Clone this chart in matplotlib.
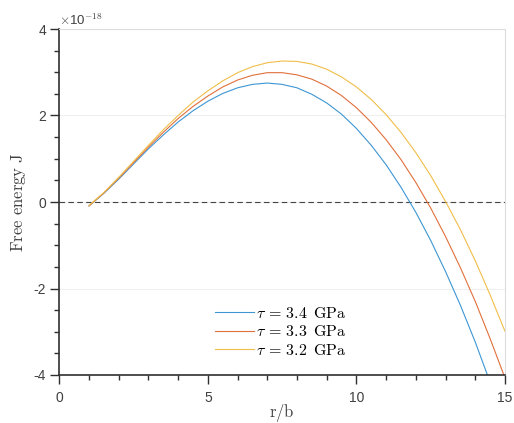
import matplotlib
matplotlib.use("Agg")
import matplotlib.pyplot as plt
from matplotlib.ticker import MultipleLocator

plt.rcParams['mathtext.fontset'] = 'cm'
plt.rcParams['axes.unicode_minus'] = False
plt.rcParams['font.family'] = ['Liberation Sans', 'DejaVu Sans']

# data (free energy in units of 1e-18 J)
r_over_b = [1, 1.5, 2, 2.5, 3, 3.5, 4, 4.5, 5, 5.5, 6, 6.5, 7, 7.5, 8, 8.5,
            9, 9.5, 10, 10.5, 11, 11.5, 12, 12.5, 13, 13.5, 14, 14.5, 15]
energy_tau_34 = [-0.09, 0.20, 0.53, 0.88, 1.23, 1.55, 1.85, 2.11, 2.33, 2.51,
                 2.64, 2.72, 2.75, 2.72, 2.64, 2.49, 2.29, 2.03, 1.70, 1.31,
                 0.86, 0.34, -0.24, -0.89, -1.61, -2.39, -3.24, -4.17, -5.15]
energy_tau_33 = [-0.09, 0.21, 0.55, 0.91, 1.27, 1.61, 1.93, 2.21, 2.45, 2.66,
                 2.82, 2.93, 2.99, 2.99, 2.94, 2.84, 2.68, 2.46, 2.18, 1.84,
                 1.44, 0.98, 0.45, -0.14, -0.80, -1.52, -2.30, -3.16, -4.07]
energy_tau_32 = [-0.08, 0.22, 0.57, 0.94, 1.31, 1.67, 2.00, 2.31, 2.57, 2.80,
                 2.99, 3.13, 3.22, 3.26, 3.25, 3.19, 3.07, 2.89, 2.66, 2.37,
                 2.02, 1.61, 1.14, 0.61, 0.01, -0.64, -1.36, -2.15, -2.99]
series_labels = [r'$\tau\,=\,3.4\ \,\mathrm{GPa}$',
                 r'$\tau\,=\,3.3\ \,\mathrm{GPa}$',
                 r'$\tau\,=\,3.2\ \,\mathrm{GPa}$']
colors = ['#3D96D3', '#E0703C', '#F0BE48']

fig = plt.figure(figsize=(5.14, 4.23), dpi=100)
ax = fig.add_axes([59.3 / 514, 1 - 375 / 423, (505 - 59.3) / 514, (375 - 29) / 423])

for ys, lab, c in zip([energy_tau_34, energy_tau_33, energy_tau_32], series_labels, colors):
    ax.plot(r_over_b, ys, color=c, lw=0.8, label=lab)

ax.axhline(0, color='#444444', lw=0.8, ls=(0, (5, 3)), zorder=1)

ax.set_xlim(0, 15)
ax.set_ylim(-4, 4)
ax.xaxis.set_major_locator(MultipleLocator(5))
ax.xaxis.set_minor_locator(MultipleLocator(1))
ax.yaxis.set_major_locator(MultipleLocator(2))
ax.yaxis.set_minor_locator(MultipleLocator(0.5))

ax.grid(axis='y', which='major', color='#EFEFEF', lw=0.8)
ax.set_axisbelow(True)

spine_dark = '#303030'
for s in ['left', 'bottom']:
    ax.spines[s].set_color(spine_dark)
    ax.spines[s].set_linewidth(1.2)
for s in ['top', 'right']:
    ax.spines[s].set_color('#DDDDDD')
    ax.spines[s].set_linewidth(0.8)

ax.tick_params(which='major', direction='out', length=6.5, width=1.0,
               color=spine_dark, labelcolor='#404040', labelsize=10, pad=3)
ax.tick_params(which='minor', direction='out', length=3.5, width=1.0, color=spine_dark)
ax.tick_params(axis='x', which='major', pad=5)

ax.text(0.0, 1.003, r'$\times$10$^{-18}$', transform=ax.transAxes,
        ha='left', va='bottom', fontsize=9.5, color='#404040')

ax.set_xlabel(r'$\mathrm{r/b}$', fontsize=12, color='#404040', labelpad=-2)
ax.set_ylabel(r'$\mathrm{Free\ energy\ J}$', fontsize=12, color='#404040', labelpad=4)

leg = ax.legend(loc='lower left', bbox_to_anchor=(0.334, 0.031), frameon=False,
                fontsize=11.5, handlelength=2.45, handletextpad=0.15,
                labelspacing=0.22, borderaxespad=0)

fig.savefig('out.png', dpi=100, facecolor='white')
